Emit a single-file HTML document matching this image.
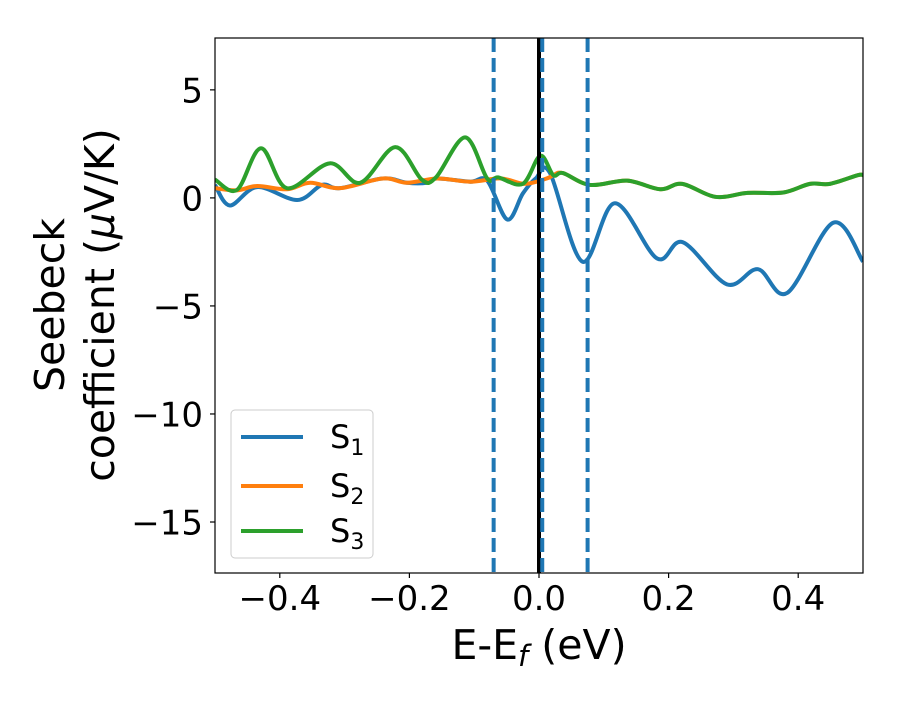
<!DOCTYPE html>
<html><head><meta charset="utf-8"><style>
body{margin:0;background:#fff}
svg text{font-family:"DejaVu Sans","Liberation Sans",sans-serif}
</style></head><body>
<svg id="chart" width="900" height="700" xmlns="http://www.w3.org/2000/svg"></svg>
<script>
const xTicks=[-0.4,-0.2,0.0,0.2,0.4];
const xTickLabels=["\u22120.4","\u22120.2","0.0","0.2","0.4"];
const yTicks=[5,0,-5,-10,-15];
const yTickLabels=["5","0","\u22125","\u221210","\u221215"];
const s3X=[-0.5,-0.466,-0.429,-0.389,-0.323,-0.276,-0.222,-0.181,-0.159,-0.114,-0.080,-0.063,-0.025,0.002,0.022,0.037,0.079,0.136,0.187,0.221,0.272,0.322,0.377,0.418,0.449,0.492,0.5];
const s3Y=[0.85,0.37,2.3,0.45,1.6,0.7,2.35,0.85,0.95,2.8,0.9,0.95,0.65,1.95,1.05,1.15,0.6,0.8,0.4,0.65,0.05,0.23,0.25,0.65,0.65,1.05,1.05];
const s2X=[-0.5,-0.466,-0.435,-0.389,-0.353,-0.307,-0.241,-0.204,-0.157,-0.106,-0.059,-0.022,0.012,0.022,0.037,0.079,0.136,0.187,0.221,0.272,0.322,0.377,0.418,0.449,0.492,0.5];
const s2Y=[0.45,0.35,0.55,0.4,0.7,0.45,0.9,0.7,0.9,0.75,0.9,0.65,0.9,1.05,1.15,0.6,0.8,0.4,0.65,0.05,0.23,0.25,0.65,0.65,1.05,1.05];
const s1X=[-0.5,-0.477,-0.435,-0.373,-0.335,-0.307,-0.241,-0.204,-0.173,-0.157,-0.106,-0.080,-0.049,-0.025,-0.005,0.017,0.067,0.117,0.182,0.222,0.290,0.338,0.383,0.454,0.5];
const s1Y=[0.6,-0.35,0.5,-0.1,0.6,0.45,0.9,0.7,0.7,0.9,0.75,0.8,-1.0,0.2,0.9,1.15,-2.95,-0.25,-2.8,-2.05,-4.0,-3.3,-4.4,-1.15,-2.95];
const vDashed=[-0.07,0.005,0.075];

const L=215,R=863,T=38,B=573;
const xMin=-0.5,xMax=0.5,yMin=-17.36,yMax=7.4;
const X=v=>L+(v-xMin)/(xMax-xMin)*(R-L);
const Y=v=>T+(yMax-v)/(yMax-yMin)*(B-T);
const svg=document.getElementById('chart');
const NS='http://www.w3.org/2000/svg';
function mk(tag,attrs,parent){const e=document.createElementNS(NS,tag);for(const k in attrs)e.setAttribute(k,attrs[k]);(parent||svg).appendChild(e);return e;}
function smooth(xs,ys){const p=xs.map((x,i)=>[X(x),Y(ys[i])]);let d='M'+p[0][0]+','+p[0][1];for(let i=0;i<p.length-1;i++){const p0=p[Math.max(0,i-1)],p1=p[i],p2=p[i+1],p3=p[Math.min(p.length-1,i+2)];const c1=[p1[0]+(p2[0]-p0[0])/6,p1[1]+(p2[1]-p0[1])/6],c2=[p2[0]-(p3[0]-p1[0])/6,p2[1]-(p3[1]-p1[1])/6];d+=`C${c1[0]},${c1[1]} ${c2[0]},${c2[1]} ${p2[0]},${p2[1]}`;}return d;}

mk('defs',{}).innerHTML='<clipPath id="clip"><rect x="215" y="38" width="648" height="535"/></clipPath>';
const g=mk('g',{'clip-path':'url(#clip)'});


const series=[[s1X,s1Y,'#1f77b4','series-s1'],[s2X,s2Y,'#ff7f0e','series-s2'],[s3X,s3Y,'#2ca02c','series-s3']];
for(const [xs,ys,c,n] of series){
  const p=mk('path',{d:smooth(xs,ys),fill:'none',stroke:c,'stroke-width':4,'stroke-linejoin':'round'},g);
  
  
}
const zl=mk('line',{x1:X(0),x2:X(0),y1:T,y2:B,stroke:'#000','stroke-width':4},g);


vDashed.forEach((v,i)=>{const l=mk('line',{x1:X(v),x2:X(v),y1:T,y2:B,stroke:'#1f77b4','stroke-width':4,'stroke-dasharray':'14,6'},g);
  
  });
const fr=mk('rect',{x:L,y:T,width:R-L,height:B-T,fill:'none',stroke:'#000','stroke-width':1.2});


xTicks.forEach((v,i)=>{mk('line',{x1:X(v),x2:X(v),y1:B,y2:B+5,stroke:'#000','stroke-width':1.2});
  const t=mk('text',{x:X(v),y:B+37,'font-size':34,'text-anchor':'middle'});t.textContent=xTickLabels[i];
  
  });
yTicks.forEach((v,i)=>{mk('line',{x1:L-5,x2:L,y1:Y(v),y2:Y(v),stroke:'#000','stroke-width':1.2});
  const t=mk('text',{x:L-12,y:Y(v)+12.5,'font-size':34,'text-anchor':'end'});t.textContent=yTickLabels[i];
  
  });
const xt=mk('text',{x:539,y:659,'font-size':41,'text-anchor':'middle'});
xt.innerHTML='E-E<tspan font-style="italic" font-size="29" dy="7">f</tspan><tspan dy="-7"> (eV)</tspan>';


const yt=mk('text',{transform:'translate(64,305) rotate(-90)','font-size':41,'text-anchor':'middle'});
yt.innerHTML='<tspan x="0" dy="0">Seebeck</tspan><tspan x="0" dy="50">coefficient  (<tspan font-style="italic">μ</tspan>V/K)</tspan>';


const lg=mk('g',{});


mk('rect',{x:231,y:410,width:142,height:148,rx:4,fill:'#fff',stroke:'#ccc','stroke-width':1},lg);
[['1','#1f77b4',437],['2','#ff7f0e',486],['3','#2ca02c',531]].forEach(([s,c,y])=>{
  const e=mk('g',{},lg);
  
  
  mk('line',{x1:241,x2:303,y1:y,y2:y,stroke:c,'stroke-width':4},e);
  const t=mk('text',{x:330,y:y+11,'font-size':32},e);
  t.innerHTML='S<tspan font-size="22" dy="7">'+s+'</tspan>';
});
</script>
</body></html>
